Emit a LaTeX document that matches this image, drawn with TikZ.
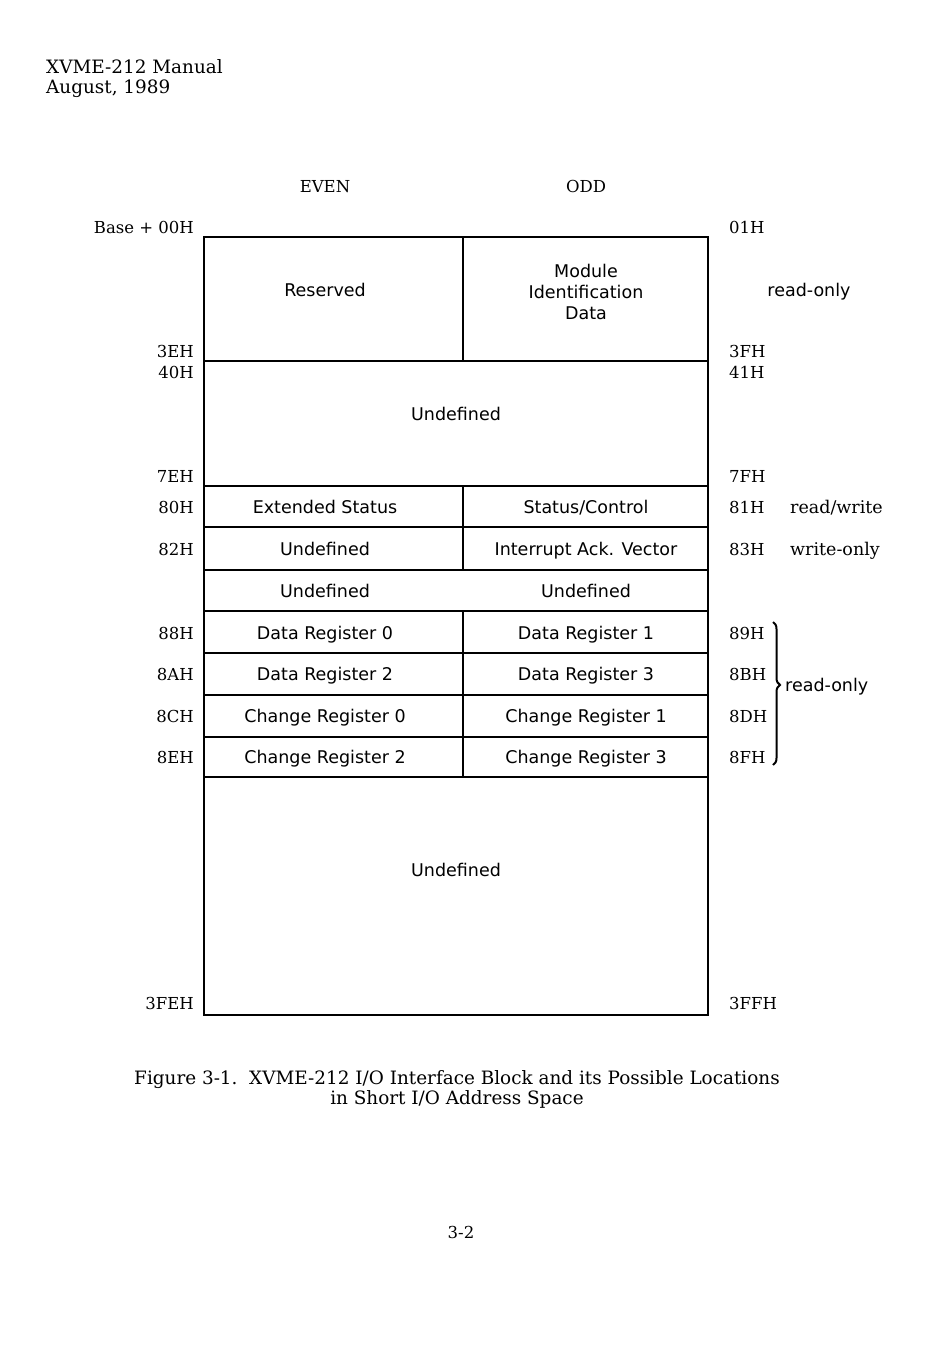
\documentclass[tikz,border=0pt]{standalone}
\usepackage{fontspec}
\setmainfont{DejaVu Serif}
\setsansfont{DejaVu Sans}
\usepackage{tikz}
\usetikzlibrary{decorations.pathreplacing}

\tikzset{
  frame/.style={line width=1.3pt, draw=black},
  cell/.style={font=\sffamily\fontsize{17.5}{21}\selectfont, anchor=mid, inner sep=0pt, yshift=-4pt},
  addrl/.style={font=\fontsize{16.5}{21}\selectfont, anchor=mid east, inner sep=0pt, yshift=-4pt},
  addrr/.style={font=\fontsize{16.5}{21}\selectfont, anchor=mid west, inner sep=0pt, yshift=-4pt},
  txt/.style={font=\fontsize{16.5}{21}\selectfont, inner sep=0pt, yshift=-4pt},
  big/.style={font=\fontsize{18.4}{20}\selectfont, inner sep=0pt}
}

\begin{document}
\begin{tikzpicture}[x=1pt, y=-1pt]
        \useasboundingbox[fill=white] (0,0) rectangle (950,1359);
        % page header
        \node[big, anchor=mid west, yshift=-4pt] (title) at (46,67) {XVME-212 Manual};
        \node[big, anchor=mid west, yshift=-4pt] (date) at (46,87) {August, 1989};
        \node[txt, anchor=mid] (even) at (325,186) {EVEN};
        \node[txt, anchor=mid] (odd) at (586,186) {ODD};
        % outer frame and row lines
        \draw[frame] (204,237) rectangle (708,1015);
        \foreach \y in {361,486,527,570,611,653,695,737,777}
        \draw[frame] (204,\y) -- (708,\y);
        \draw[frame] (463,237) -- (463,361);
        \draw[frame] (463,486) -- (463,570);
        \draw[frame] (463,611) -- (463,777);
        % cell contents
        \node[cell] (res) at (325,290) {Reserved};
        \node[cell, align=center, anchor=center, yshift=2pt] (modid) at (586,290) {Module\\Identification\\Data};
        \node[cell] (undefa) at (456,414) {Undefined};
        \node[cell] (extst) at (325,507) {Extended Status};
        \node[cell] (stctl) at (586,507) {Status/Control};
        \node[cell] (undefb) at (325,549) {Undefined};
        \node[cell] (iack) at (586,549) {Interrupt Ack. Vector};
        \node[cell] (undefc) at (325,591) {Undefined};
        \node[cell] (undefd) at (586,591) {Undefined};
        \foreach \n/\y in {0/633,2/674}
        \node[cell] (dreg\n) at (325,\y) {Data Register \n};
        \foreach \n/\y in {1/633,3/674}
        \node[cell] (dreg\n) at (586,\y) {Data Register \n};
        \foreach \n/\y in {0/716,2/757}
        \node[cell] (creg\n) at (325,\y) {Change Register \n};
        \foreach \n/\y in {1/716,3/757}
        \node[cell] (creg\n) at (586,\y) {Change Register \n};
        \node[cell] (undefe) at (456,870) {Undefined};
        % addresses, even side
        \foreach \a/\y in {Base + 00H/227,3EH/351,40H/372,7EH/476,80H/507,
                           82H/549,88H/633,8AH/674,8CH/716,8EH/757,3FEH/1003}
        \node[addrl] at (194,\y) {\a};
        % addresses, odd side
        \foreach \a/\y in {01H/227,3FH/351,41H/372,7FH/476,81H/507,
                           83H/549,89H/633,8BH/674,8DH/716,8FH/757,3FFH/1003}
        \node[addrr] at (729,\y) {\a};
        % access notes
        \node[cell, anchor=mid] (ro) at (809,290) {read-only};
        \node[addrr, font=\fontsize{17.5}{21}\selectfont] (rw) at (790,507) {read/write};
        \node[addrr, font=\fontsize{17.5}{21}\selectfont] (wo) at (790,549) {write-only};
        \coordinate (bt) at (773,622);
        \coordinate (bb) at (773,765);
        \draw[line width=2pt, decorate, decoration={brace, amplitude=7pt, aspect=0.44}]
        (bt) -- (bb);
        \node[cell, anchor=mid west] (robr) at (785,685) {read-only};
        % caption and page number
        \node[big, align=center, anchor=center, yshift=-2pt] (cap) at (457,1087)
        {Figure 3-1.\ \ XVME-212 I/O Interface Block and its Possible Locations\\
         in Short I/O Address Space};
        \node[txt, anchor=mid] (page) at (461,1232) {3-2};
\end{tikzpicture}
\end{document}
